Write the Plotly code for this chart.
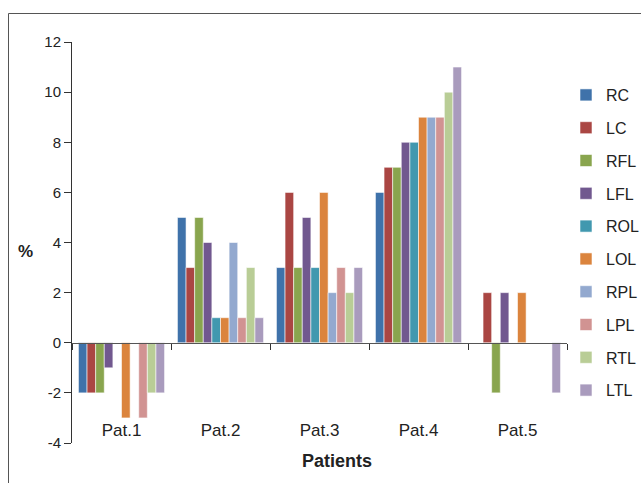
import plotly.graph_objects as go

patients = ["Pat.1", "Pat.2", "Pat.3", "Pat.4", "Pat.5"]
regions = ["RC", "LC", "RFL", "LFL", "ROL", "LOL", "RPL", "LPL", "RTL", "LTL"]
RC = [-2, 5, 3, 6, 0]
LC = [-2, 3, 6, 7, 2]
RFL = [-2, 5, 3, 7, -2]
LFL = [-1, 4, 5, 8, 2]
ROL = [0, 1, 3, 8, 0]
LOL = [-3, 1, 6, 9, 2]
RPL = [0, 4, 2, 9, 0]
LPL = [-3, 1, 3, 9, 0]
RTL = [-2, 3, 2, 10, 0]
LTL = [-2, 1, 3, 11, -2]
series = [RC, LC, RFL, LFL, ROL, LOL, RPL, LPL, RTL, LTL]
colors = ["#3F72AA", "#AA4643", "#89A54E", "#71588F", "#4198AF",
          "#DB843D", "#93A9CF", "#D19392", "#B9CD96", "#A99BBD"]
yticks = [-4, -2, 0, 2, 4, 6, 8, 10, 12]
yticktext = ["-4", "-2", "0", "2", "4", "6", "8", "10", "12"]

FONT = "Liberation Sans, Arial, sans-serif"
fig = go.Figure()
for i, (name, vals) in enumerate(zip(regions, series)):
    fig.add_trace(go.Bar(
        x=patients, y=vals, name=name, legendgroup=name,
        marker=dict(color=colors[i], line=dict(color="rgba(255,255,255,0.7)", width=0.8)),
    ))
# helper trace for the zero-level category axis
fig.add_trace(go.Scatter(x=patients, y=[None] * 5, xaxis="x2", yaxis="y",
                         showlegend=False, hoverinfo="skip", mode="markers"))

L, T, R, B = 72, 42, 74, 40
W, H = 641, 483
pw, ph = W - L - R, H - T - B
ymin, ymax = -4, 12

def px_to_paper_x(px):
    return (px - L) / pw

def px_to_paper_y(py):
    return (H - B - py) / ph

fig.update_layout(
    width=W, height=H,
    margin=dict(l=L, r=R, t=T, b=B, pad=0, autoexpand=False),
    paper_bgcolor="white", plot_bgcolor="white",
    font=dict(family=FONT, size=15, color="#222222"),
    barmode="group", bargap=0.13, bargroupgap=0,
    showlegend=True,
    legend=dict(x=px_to_paper_x(566), xanchor="left", y=px_to_paper_y(78), yanchor="top",
                font=dict(size=16, color="#222222"), tracegroupgap=9,
                itemclick=False, bgcolor="rgba(0,0,0,0)"),
    xaxis=dict(type="category", categoryorder="array", categoryarray=patients,
               range=[-0.5, 4.5], anchor="free", position=px_to_paper_y(418),
               showline=False, ticks="", showgrid=False, zeroline=False,
               tickfont=dict(size=17, color="#222222")),
    xaxis2=dict(type="category", categoryorder="array", categoryarray=patients,
                range=[-0.5, 4.5], overlaying="x", anchor="free",
                position=(0 - ymin) / (ymax - ymin),
                showline=True, linecolor="#555555", linewidth=1.3,
                ticks="outside", tickson="boundaries", ticklen=6, tickcolor="#333333",
                showticklabels=False, showgrid=False, zeroline=False),
    yaxis=dict(range=[ymin, ymax], tickvals=yticks, ticktext=yticktext,
               showline=True, linecolor="#333333", linewidth=1,
               ticks="outside", ticklen=7, tickcolor="#333333",
               showgrid=False, zeroline=False, tickfont=dict(size=15, color="#222222")),
    annotations=[
        dict(text="<b>%</b>", xref="paper", yref="paper", x=px_to_paper_x(25),
             y=px_to_paper_y(251), xanchor="center", yanchor="middle",
             showarrow=False, font=dict(size=17, color="#222222")),
        dict(text="<b>Patients</b>", xref="paper", yref="paper", x=px_to_paper_x(337),
             y=px_to_paper_y(461), xanchor="center", yanchor="middle",
             showarrow=False, font=dict(size=18, color="#222222")),
    ],
    shapes=[
        dict(type="rect", xref="paper", yref="paper",
             x0=px_to_paper_x(8.5), x1=px_to_paper_x(700),
             y0=px_to_paper_y(520), y1=px_to_paper_y(13.5),
             line=dict(color="#555555", width=1), fillcolor="rgba(0,0,0,0)", layer="below"),
    ],
)

fig.write_html("out.html", config={"displayModeBar": False},
               post_script="document.body.style.margin='0';document.body.style.overflow='hidden';")
